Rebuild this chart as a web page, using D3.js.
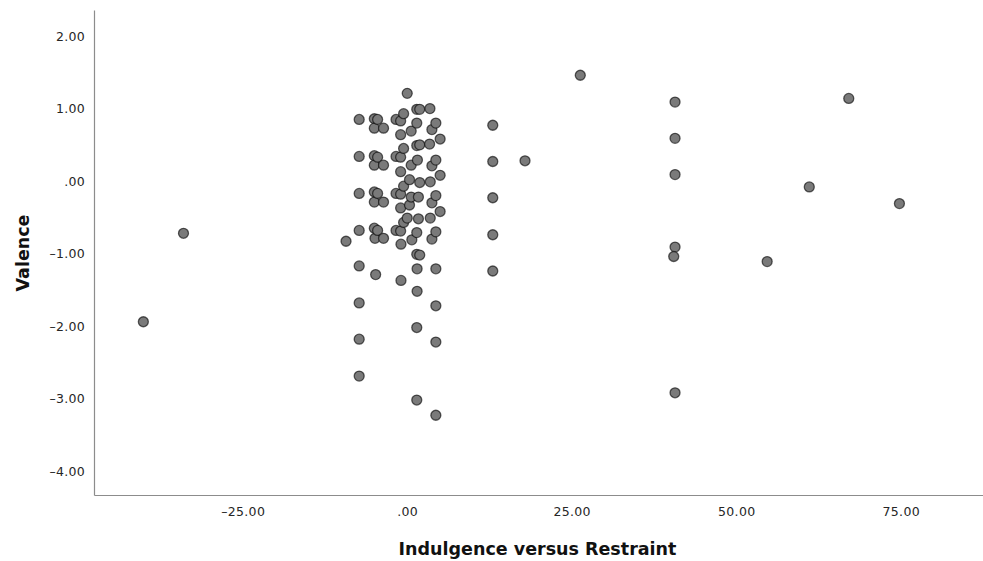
<!DOCTYPE html>
<html>
<head>
<meta charset="utf-8">
<script src="https://cdn.jsdelivr.net/npm/d3@7"></script>
<style>
  html, body { margin: 0; padding: 0; background: #fff; }
  svg { display: block; }
</style>
</head>
<body>
<svg id="chart" width="983" height="561"></svg>
<script>
// ---- Data ----
const xTitle = "Indulgence versus Restraint";
const yTitle = "Valence";
const xTicks = [-25, 0, 25, 50, 75];
const yTicks = [2, 1, 0, -1, -2, -3, -4];

// Indulgence versus Restraint (x) values of each point
const indulgence = [
  // column ~ -7.3
  -7.3, -7.3, -7.3, -7.3, -7.3, -7.3, -7.3, -7.3,
  // column ~ -5.0
  -5.0, -5.0, -5.0, -5.0, -5.0, -5.0, -5.0, -4.9, -4.8,
  // column ~ -4.5
  -4.5, -4.5, -4.5, -4.5,
  // column ~ -3.6
  -3.6, -3.6, -3.6, -3.6,
  // column ~ -1.7
  -1.7, -1.7, -1.7, -1.7,
  // column ~ -1.0
  -1.0, -1.0, -1.0, -1.0, -1.0, -1.0, -1.0, -0.95, -0.95,
  // column ~ -0.5
  -0.55, -0.55, -0.55, -0.55,
  // near 0
  0.0, 0.0, 0.35, 0.35, 0.6, 0.6, 0.6, 0.7,
  // column ~ 1.5
  1.45, 1.45, 1.45, 1.55, 1.7, 1.7, 1.45, 1.45, 1.5, 1.5, 1.45, 1.45,
  // column ~ 1.9
  1.9, 1.9, 1.9, 1.9,
  // column ~ 3.5
  3.45, 3.4, 3.5, 3.5,
  // column ~ 3.75
  3.75, 3.75, 3.75, 3.75,
  // column ~ 4.4
  4.35, 4.35, 4.35, 4.35, 4.35, 4.35, 4.35, 4.35,
  // column ~ 5.0
  5.0, 5.0, 5.0,
  // other points
  -9.3, -34.0, -40.1,
  13.0, 13.0, 13.0, 13.0, 13.0,
  17.9, 26.3,
  40.7, 40.7, 40.7, 40.7, 40.5, 40.7,
  54.7, 61.1, 67.1, 74.8
];

// Valence (y) values of each point, same order
const valence = [
  0.85, 0.34, -0.17, -0.68, -1.17, -1.68, -2.18, -2.69,
  0.86, 0.35, -0.15, -0.65, 0.73, 0.22, -0.29, -0.79, -1.29,
  0.85, 0.33, -0.17, -0.68,
  0.73, 0.22, -0.29, -0.79,
  0.85, 0.34, -0.17, -0.68,
  0.83, 0.64, 0.33, 0.13, -0.18, -0.37, -0.69, -0.87, -1.37,
  0.93, 0.45, -0.07, -0.57,
  1.21, -0.51, 0.02, -0.33, 0.69, 0.22, -0.22, -0.81,
  0.99, 0.80, 0.49, 0.29, -0.52, -0.22, -0.71, -1.01, -1.21, -1.52, -2.02, -3.02,
  0.99, 0.50, -0.02, -1.02,
  1.00, 0.51, -0.01, -0.51,
  0.71, 0.21, -0.30, -0.80,
  0.80, 0.29, -0.20, -0.70, -1.21, -1.72, -2.22, -3.23,
  0.58, 0.08, -0.42,
  -0.83, -0.72, -1.94,
  0.77, 0.27, -0.23, -0.74, -1.24,
  0.28, 1.46,
  1.09, 0.59, 0.09, -0.91, -1.04, -2.92,
  -1.11, -0.08, 1.14, -0.31
];

// ---- Layout ----
const W = 983, H = 561;
const plot = { left: 94, right: 983, top: 10, bottom: 495 };

const svg = d3.select("#chart");

const x = d3.scaleLinear().domain([-47.6, 87.5]).range([plot.left, plot.right]);
const y = d3.scaleLinear().domain([-4.33, 2.36]).range([plot.bottom, plot.top]);

function fmt(d) {
  const a = Math.abs(d).toFixed(2).replace(/^0(?=\.)/, "");
  return (d < 0 ? "\u2013" : "") + a;
}

const labelColor = "#262626";
const axisColor = "#8c8c8c";
const tickFont = "'DejaVu Sans', sans-serif";

// Y axis
const yAxis = d3.axisLeft(y).tickValues(yTicks).tickFormat(fmt).tickSize(0).tickPadding(9);
const gy = svg.append("g").attr("transform", `translate(${plot.left},0)`).call(yAxis);
gy.select(".domain").attr("stroke", axisColor).attr("stroke-width", 1.2);
gy.selectAll("text").attr("fill", labelColor)
  .style("font-family", tickFont).style("font-size", "12.5px").style("letter-spacing", "0.3px");

// X axis
const xAxis = d3.axisBottom(x).tickValues(xTicks).tickFormat(fmt).tickSize(0).tickPadding(12);
const gx = svg.append("g").attr("transform", `translate(0,${plot.bottom})`).call(xAxis);
gx.select(".domain").attr("stroke", axisColor).attr("stroke-width", 1.2);
gx.selectAll("text").attr("fill", labelColor)
  .style("font-family", tickFont).style("font-size", "12.5px").style("letter-spacing", "0.3px");

// Points
const pts = d3.range(indulgence.length).map(i => ({ x: indulgence[i], y: valence[i] }));
svg.append("g")
  .selectAll("circle")
  .data(pts)
  .join("circle")
  .attr("cx", d => x(d.x))
  .attr("cy", d => y(d.y))
  .attr("r", 5)
  .attr("fill", "#7a7a7a")
  .attr("stroke", "rgba(0,0,0,0.6)")
  .attr("stroke-width", 1.3);

// Axis titles
svg.append("text")
  .attr("x", (plot.left + plot.right) / 2 - 1)
  .attr("y", 555)
  .attr("text-anchor", "middle")
  .attr("fill", "#111")
  .style("font-family", "'DejaVu Sans', sans-serif")
  .style("font-weight", "bold")
  .style("font-size", "17.5px")
  .text(xTitle);

svg.append("text")
  .attr("transform", `translate(29,${253}) rotate(-90)`)
  .attr("text-anchor", "middle")
  .attr("fill", "#111")
  .style("font-family", "'DejaVu Sans', sans-serif")
  .style("font-weight", "bold")
  .style("font-size", "17.5px")
  .text(yTitle);
</script>
</body>
</html>
